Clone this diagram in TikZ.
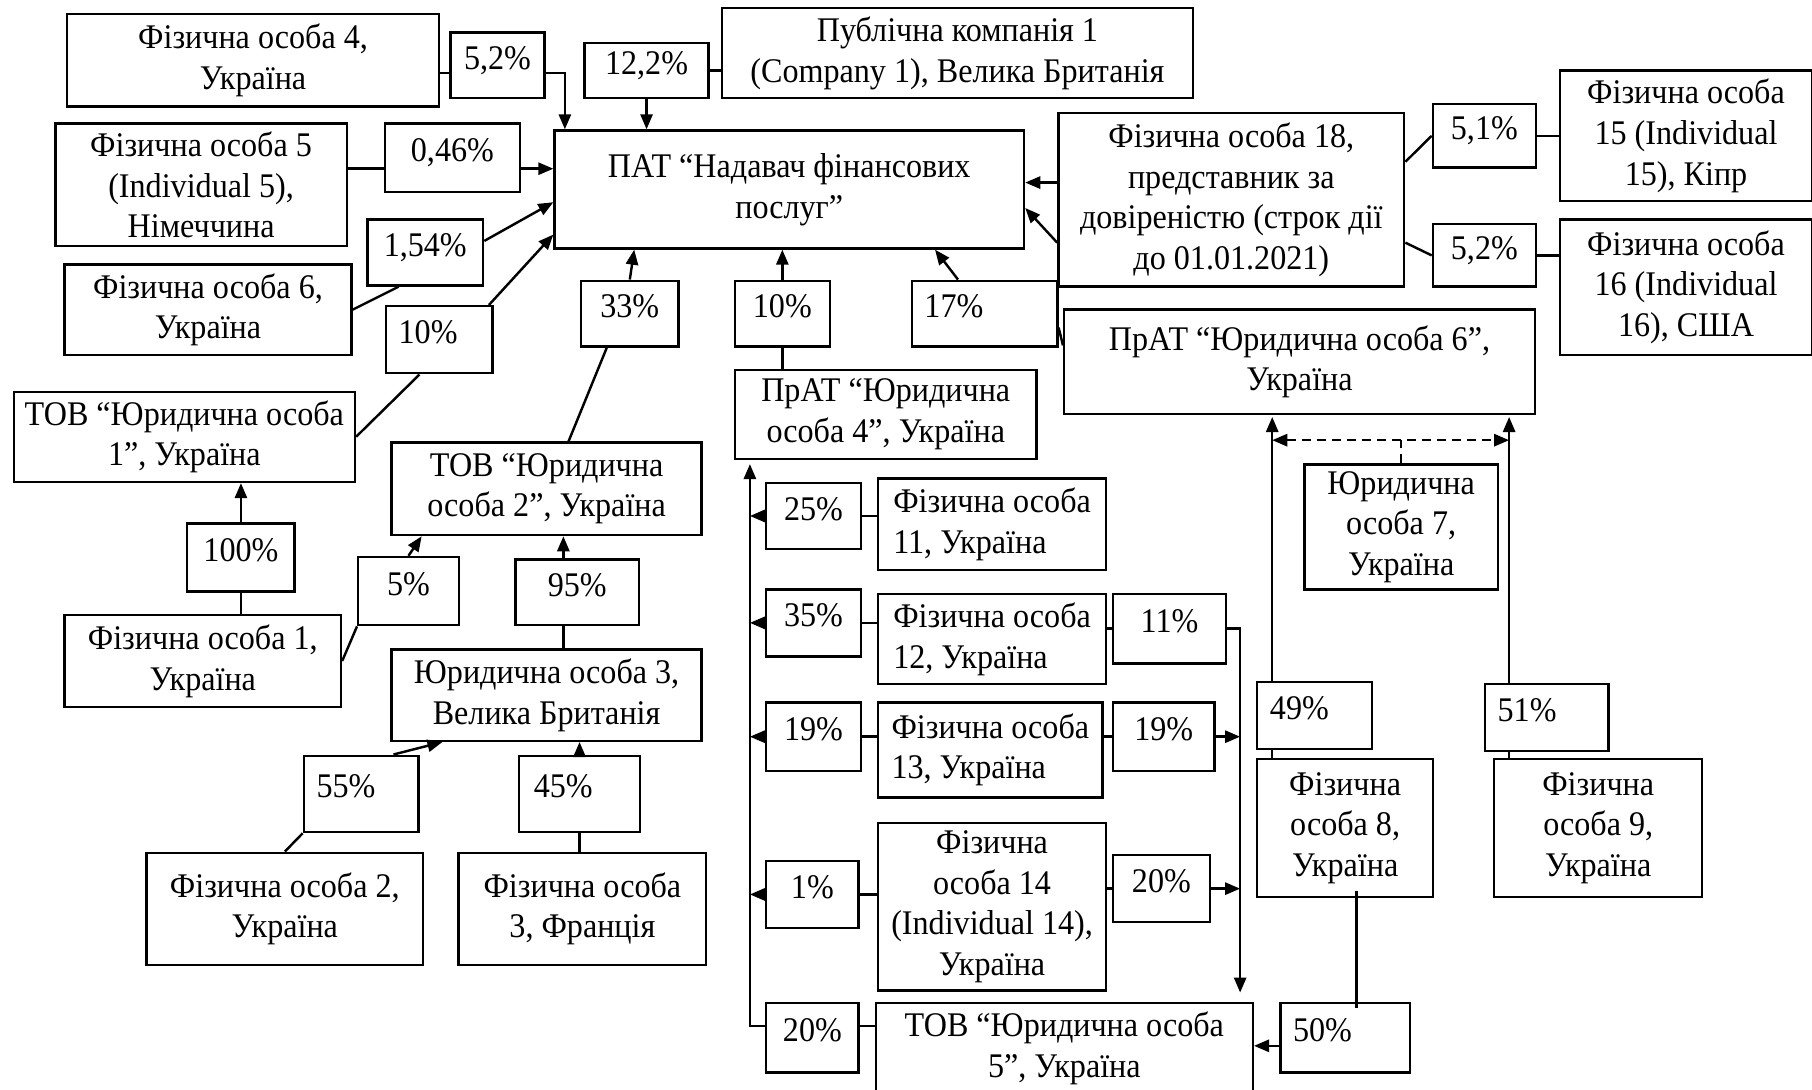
\documentclass[tikz,border=0pt]{standalone}
\usepackage{fontspec}
\setmainfont{Liberation Serif}[FakeStretch=0.93]
\usetikzlibrary{arrows.meta, calc}

\begin{document}
\begin{tikzpicture}[x=0.01cm, y=-0.01cm, line width=0.6pt,
    box/.style={draw, inner sep=1pt, align=center, font=\fontsize{8.5pt}{10pt}\selectfont},
    lalign/.style={align=left},
    pct/.style={box, text height=0.22cm, text depth=0.15cm},
    pctl/.style={pct, align=left, text width=#1},
    arr/.style={-{Triangle[length=1.3mm, width=1.05mm]}},
    darr/.style={{Triangle[length=1.3mm, width=1.05mm]}-{Triangle[length=1.3mm, width=1.05mm]}, dash pattern=on 0.8mm off 0.5mm}]
    \useasboundingbox (0,0) rectangle (1568,943);

    % Central company
    \node[box, minimum width=4.06cm, minimum height=1.02cm] (pat) at (683,164) {ПАТ “Надавач фінансових\\послуг”};

    % Top and left owners
    \node[box, minimum width=3.22cm, minimum height=0.80cm] (fo4) at (219,52) {Фізична особа 4,\\Україна};
    \node[pct, minimum width=0.81cm, minimum height=0.57cm] (p52a) at (430.5,56.5) {5,2\%};
    \node[pct, minimum width=1.07cm, minimum height=0.48cm] (p122) at (559.5,61) {12,2\%};
    \node[box, minimum width=4.07cm, minimum height=0.78cm] (pk1) at (828.5,46) {Публічна компанія 1\\(Company 1), Велика Британія};
    \node[box, minimum width=2.52cm, minimum height=1.06cm] (fo5) at (174,160) {Фізична особа 5\\(Individual 5),\\Німеччина};
    \node[pct, minimum width=1.17cm, minimum height=0.59cm] (p046) at (391.5,136.5) {0,46\%};
    \node[pct, minimum width=1.00cm, minimum height=0.57cm] (p154) at (368,218.5) {1,54\%};
    \node[box, minimum width=2.48cm, minimum height=0.78cm] (fo6) at (180,268) {Фізична особа 6,\\Україна};
    \node[pctl=0.70cm, minimum width=0.92cm, minimum height=0.58cm] (p10a) at (380,294) {10\%};
    \node[box, minimum width=2.95cm, minimum height=0.78cm] (tov1) at (159.5,378) {ТОВ “Юридична особа\\1”, Україна};
    \node[pct, minimum width=0.93cm, minimum height=0.59cm] (p100) at (208.5,482.5) {100\%};
    \node[box, minimum width=2.39cm, minimum height=0.80cm] (fo1) at (175.5,572) {Фізична особа 1,\\Україна};
    \node[pct, minimum width=0.87cm, minimum height=0.59cm] (p5) at (353.5,511.5) {5\%};
    \node[box, minimum width=2.68cm, minimum height=0.80cm] (tov2) at (473,423) {ТОВ “Юридична\\особа 2”, Україна};
    \node[pct, minimum width=1.07cm, minimum height=0.57cm] (p95) at (499.5,512.5) {95\%};
    \node[box, minimum width=2.68cm, minimum height=0.79cm] (uo3) at (473,601.5) {Юридична особа 3,\\Велика Британія};
    \node[pctl=0.77cm, minimum width=0.99cm, minimum height=0.66cm] (p55) at (312.5,687) {55\%};
    \node[pctl=0.79cm, minimum width=1.05cm, minimum height=0.66cm] (p45) at (501.5,687) {45\%};
    \node[box, minimum width=2.39cm, minimum height=0.97cm] (fo2) at (246.5,786.5) {Фізична особа 2,\\Україна};
    \node[box, minimum width=2.14cm, minimum height=0.97cm] (fo3) at (504,786.5) {Фізична особа\\3, Франція};

    % Owners below and right
    \node[pct, minimum width=0.84cm, minimum height=0.57cm] (p33) at (545,271.5) {33\%};
    \node[pct, minimum width=0.82cm, minimum height=0.57cm] (p10b) at (677,271.5) {10\%};
    \node[box, minimum width=2.61cm, minimum height=0.77cm] (prat4) at (766.5,358.5) {ПрАТ “Юридична\\особа 4”, Україна};
    \node[pctl=1.04cm, minimum width=1.26cm, minimum height=0.57cm] (p17) at (852,271.5) {17\%};
    \node[box, minimum width=4.07cm, minimum height=0.90cm] (prat6) at (1124.5,313) {ПрАТ “Юридична особа 6”,\\Україна};
    \node[box, minimum width=2.99cm, minimum height=1.50cm] (fo18) at (1065.5,173) {Фізична особа 18,\\представник за\\довіреністю (строк дії\\до 01.01.2021)};
    \node[pct, minimum width=0.89cm, minimum height=0.55cm] (p51) at (1284.5,117.5) {5,1\%};
    \node[pct, minimum width=0.89cm, minimum height=0.54cm] (p52b) at (1284.5,221) {5,2\%};
    \node[box, minimum width=2.18cm, minimum height=1.13cm] (fo15) at (1459,117.5) {Фізична особа\\15 (Individual\\15), Кіпр};
    \node[box, minimum width=2.18cm, minimum height=1.17cm] (fo16) at (1459,248.5) {Фізична особа\\16 (Individual\\16), США};
    \node[box, minimum width=1.67cm, minimum height=1.08cm] (uo7) at (1212.5,456) {Юридична\\особа 7,\\Україна};
    \node[pctl=0.77cm, minimum width=0.99cm, minimum height=0.58cm] (p49) at (1137.5,619) {49\%};
    \node[pctl=0.85cm, minimum width=1.07cm, minimum height=0.58cm] (p51b) at (1338.5,621) {51\%};
    \node[box, minimum width=1.52cm, minimum height=1.19cm] (fo8) at (1164,716.5) {Фізична\\особа 8,\\Україна};
    \node[box, minimum width=1.80cm, minimum height=1.19cm] (fo9) at (1383,716.5) {Фізична\\особа 9,\\Україна};
    \node[pctl=0.90cm, minimum width=1.12cm, minimum height=0.60cm] (p50) at (1164,898) {50\%};
    \node[box, minimum width=3.26cm, minimum height=0.78cm] (tov5) at (921,907) {ТОВ “Юридична особа\\5”, Україна};

    % Owners of ПрАТ 4
    \node[pct, minimum width=0.82cm, minimum height=0.57cm] (p25) at (704,446.5) {25\%};
    \node[box, lalign, minimum width=1.97cm, minimum height=0.79cm] (fo11) at (858.5,453.5) {Фізична особа\\11, Україна};
    \node[pct, minimum width=0.82cm, minimum height=0.58cm] (p35) at (704,539) {35\%};
    \node[box, lalign, minimum width=1.97cm, minimum height=0.78cm] (fo12) at (858.5,553) {Фізична особа\\12, Україна};
    \node[pct, minimum width=0.98cm, minimum height=0.60cm] (p11) at (1012,544) {11\%};
    \node[pct, minimum width=0.82cm, minimum height=0.59cm] (p19a) at (704,637.5) {19\%};
    \node[box, lalign, minimum width=1.94cm, minimum height=0.82cm] (fo13) at (857,649) {Фізична особа\\13, Україна};
    \node[pct, minimum width=0.88cm, minimum height=0.59cm] (p19b) at (1007,637.5) {19\%};
    \node[pct, minimum width=0.80cm, minimum height=0.58cm] (p1) at (703,774) {1\%};
    \node[box, minimum width=1.97cm, minimum height=1.45cm] (fo14) at (858.5,784.5) {Фізична\\особа 14\\(Individual 14),\\Україна};
    \node[pct, minimum width=0.84cm, minimum height=0.58cm] (p20b) at (1005,769) {20\%};
    \node[pct, minimum width=0.80cm, minimum height=0.60cm] (p20a) at (703,898) {20\%};

    % Top and left links
    \draw (fo4.east |- 0,63) -- (p52a.west |- 0,63);
    \draw[arr] (p52a.east |- 0,63) -| ($(pat.north west)+(10,0)$);
    \draw (p122.east) -- (p122.east -| pk1.west);
    \draw[arr] (p122.south) -- (p122.south |- pat.north);
    \draw (fo5.east |- 0,146) -- (p046.west |- 0,146);
    \draw[arr] (p046.east |- 0,146) -- (pat.west |- 0,146);
    \draw[arr] ($(p154.east)+(0,-10)$) -- ($(pat.west)+(0,11)$);
    \draw (fo6.east) -- ($(p154.south)+(-23,0)$);
    \draw[arr] ($(p10a.north east)+(-4,0)$) -- ($(pat.west)+(0,39)$);
    \draw (tov1.east) -- ($(p10a.south)+(-17,0)$);
    \draw[arr] (p100.north) -- (p100.north |- tov1.south);
    \draw (p100.south) -- (p100.south |- fo1.north);
    \draw (fo1.east) -- (p5.south west);
    \draw[arr] (p5.north) -- ($(tov2.south west)+(27,0)$);
    \coordinate (l95) at ($(p95.north)+(-12,0)$);
    \draw[arr] (l95) -- (l95 |- tov2.south);
    \draw (l95 |- p95.south) -- (l95 |- uo3.north);
    \draw[arr] ($(p55.north)+(28,0)$) -- ($(uo3.south west)+(45,0)$);
    \draw (fo2.north) -- (p55.south west);
    \draw[arr] (p45.north) -- (p45.north |- uo3.south);
    \draw (p45.south) -- (p45.south |- fo3.north);

    % Links below PAT
    \draw[arr] (p33.north) -- ($(pat.south west)+(70,0)$);
    \draw ($(p33.south)+(-20,0)$) -- ($(tov2.north)+(19,0)$);
    \draw[arr] (p10b.north) -- (p10b.north |- pat.south);
    \draw (p10b.south) -- (p10b.south |- prat4.north);
    \draw[arr] ($(p17.north)+(-23,0)$) -- ($(pat.south east)+(-78,0)$);
    \draw ($(p17.east)+(0,12)$) -- ($(prat6.north west)+(0,32)$);

    % Links right of PAT
    \draw[arr] ($(fo18.west)+(0,-15)$) -- ($(pat.east)+(0,-6)$);
    \draw[arr] ($(fo18.west)+(0,37)$) -- ($(pat.east)+(0,16)$);
    \draw ($(fo18.east)+(0,-33)$) -- (p51.west);
    \draw (p51.east) -- (p51.east -| fo15.west);
    \draw ($(fo18.east)+(0,37)$) -- (p52b.west);
    \draw (p52b.east) -- (p52b.east -| fo16.west);

    % Owners of ПрАТ 6
    \coordinate (l49) at ($(p49.north west)+(14,0)$);
    \coordinate (l51) at ($(p51b.north west)+(22,0)$);
    \coordinate (d7) at ($(uo7.north)+(0,-20)$);
    \draw[arr, shorten >=0.5pt] (l49) -- (l49 |- prat6.south);
    \draw (l49 |- p49.south) -- (l49 |- fo8.north);
    \draw[arr, shorten >=0.5pt] (l51) -- (l51 |- prat6.south);
    \draw (l51 |- p51b.south) -- (l51 |- fo9.north);
    \draw[dash pattern=on 0.8mm off 0.5mm] (uo7.north) -- (d7);
    \draw[darr] (d7 -| l49) -- (d7 -| l51);

    % ФО 8 and ТОВ 5
    \coordinate (a50) at ($(p50.west)+(0,7)$);
    \draw ($(fo8.south)+(10,-6)$) -- ($(p50.north)+(10,5)$);
    \draw[arr] (a50) -- (a50 -| tov5.east);

    % Owners of ПрАТ 4
    \coordinate (vl) at ($(p20a.west)+(-13,-10)$);
    \coordinate (vr) at ($(tov5.north east)+(-12,-8)$);
    \draw (tov5.west |- vl) -- (p20a.east |- vl);
    \draw[arr, shorten >=1pt] (p20a.west |- vl) -- (vl) -- (vl |- prat4.south);
    \draw[arr] (p25.west) -- (p25.west -| vl);
    \draw (p25.east) -- (p25.east -| fo11.west);
    \draw[arr] (p35.west) -- (p35.west -| vl);
    \draw (p35.east) -- (p35.east -| fo12.west);
    \draw[arr] (p19a.west) -- (p19a.west -| vl);
    \draw (p19a.east) -- (p19a.east -| fo13.west);
    \draw[arr] (p1.west) -- (p1.west -| vl);
    \draw (p1.east) -- (p1.east -| fo14.west);

    % Links to ТОВ 5
    \draw (p11.west -| fo12.east) -- (p11.west);
    \draw[arr] (p11.east) -| (vr);
    \draw (p19b.west -| fo13.east) -- (p19b.west);
    \draw[arr] (p19b.east) -- (p19b.east -| vr);
    \draw (p20b.west -| fo14.east) -- (p20b.west);
    \draw[arr] (p20b.east) -- (p20b.east -| vr);
\end{tikzpicture}
\end{document}
